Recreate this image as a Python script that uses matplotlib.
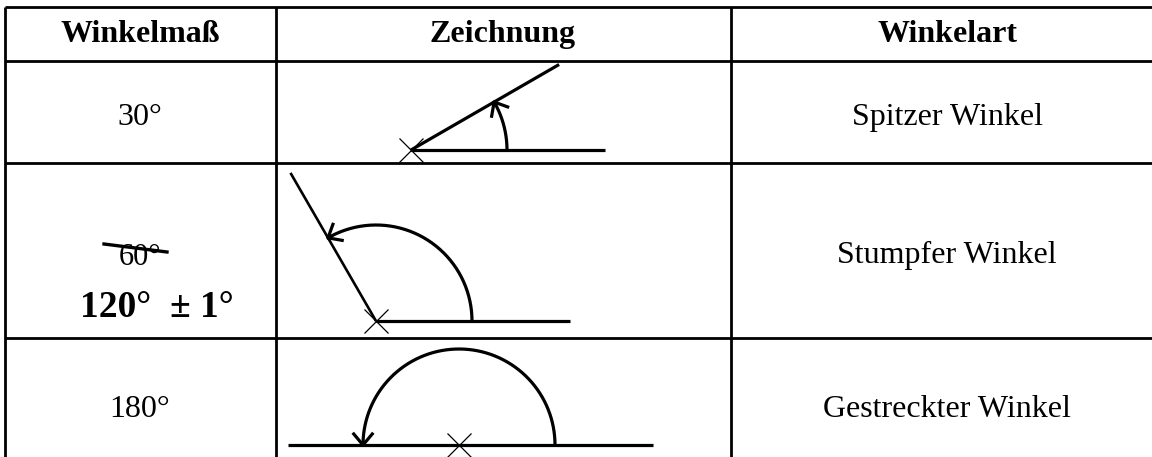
import matplotlib.pyplot as plt
import numpy as np

# table content
headers = ['Winkelmaß', 'Zeichnung', 'Winkelart']
angles = [30, 120, 180]
angle_labels = ['30°', '120°  ± 1°', '180°']
struck_label = '60°'
angle_kinds = ['Spitzer Winkel', 'Stumpfer Winkel', 'Gestreckter Winkel']

# layout in pixels (y grows downward)
col_edges = [5, 276, 731, 1163]
row_edges = [7, 61, 163, 338]
col_centers = [140, 503, 947]
header_base = 42
row_base = [125, 263, 417]
vertices = [(411, 150), (376, 321), (459, 445)]
ray_len = 194
arm_len = 171
arc_r = 96

plt.rcParams['font.family'] = ['Liberation Serif', 'DejaVu Serif']

fig = plt.figure(figsize=(11.52, 4.57), dpi=100)
ax = fig.add_axes([0, 0, 1, 1])
ax.set_xlim(0, 1152)
ax.set_ylim(457, 0)
ax.axis('off')

# grid lines
for y in row_edges:
    ax.plot([col_edges[0], col_edges[-1]], [y, y], color='black', lw=2.0, solid_capstyle='butt')
for x in col_edges:
    ax.plot([x, x], [row_edges[0], 470], color='black', lw=2.0, solid_capstyle='butt')

# header
for x, h in zip(col_centers, headers):
    ax.text(x, header_base, h, ha='center', va='baseline', fontsize=23, fontweight='bold')

for i, (a, kind) in enumerate(zip(angles, angle_kinds)):
    # first column
    if a == 120:
        ax.text(col_centers[0], 265, struck_label, ha='center', va='baseline', fontsize=22)
        ax.plot([col_centers[0] - 36, col_centers[0] + 27], [244, 252], color='black', lw=2.4)
        ax.text(col_centers[0] + 17, 317, angle_labels[i], ha='center', va='baseline',
                fontsize=27, fontweight='bold')
    else:
        ax.text(col_centers[0], row_base[i], angle_labels[i], ha='center', va='baseline', fontsize=23)

    # third column
    ax.text(col_centers[2], row_base[i], kind, ha='center', va='baseline', fontsize=23)

    # drawing
    vx, vy = vertices[i]
    rad = np.deg2rad(a)
    ax.plot([vx, vx + ray_len], [vy, vy], color='black', lw=2.3, solid_capstyle='butt')
    ax.plot([vx, vx + arm_len * np.cos(rad)], [vy, vy - arm_len * np.sin(rad)],
            color='black', lw=1.9 if a == 120 else 2.3, solid_capstyle='butt')
    t = np.linspace(0, rad, 200)
    ax.plot(vx + arc_r * np.cos(t), vy - arc_r * np.sin(t), color='black', lw=2.3)
    # open arrowhead at the end of the arc
    tip_x, tip_y = vx + arc_r * np.cos(rad), vy - arc_r * np.sin(rad)
    back = np.array([np.sin(rad), np.cos(rad)])
    for sgn in (-1, 1):
        phi = np.deg2rad(40) * sgn
        rot = np.array([[np.cos(phi), -np.sin(phi)], [np.sin(phi), np.cos(phi)]])
        d = rot @ back
        ax.plot([tip_x, tip_x + 16 * d[0]], [tip_y, tip_y + 16 * d[1]], color='black',
                lw=2.3, solid_capstyle='butt')
    # vertex cross
    ax.plot(vx, vy, marker='x', color='black', markersize=17, markeredgewidth=0.9)

fig.savefig('out.png', dpi=100)
